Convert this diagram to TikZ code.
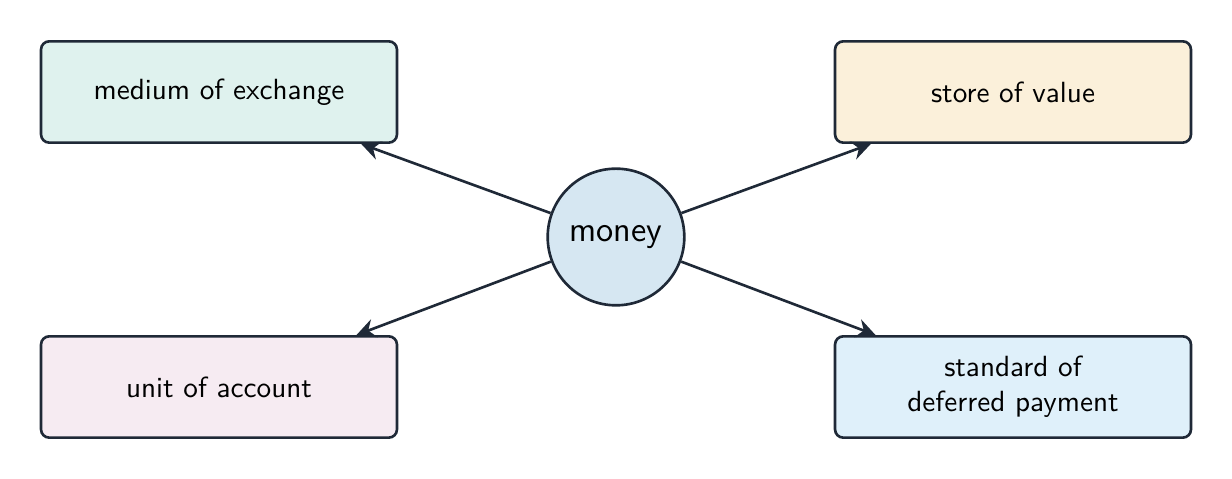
\documentclass[tikz,border=0pt]{standalone}
\usetikzlibrary{arrows.meta}
\definecolor{ink}{HTML}{1F2937}
\definecolor{fteal}{HTML}{DFF2EE}
\definecolor{fcream}{HTML}{FBF0DA}
\definecolor{fpink}{HTML}{F6EBF2}
\definecolor{fblue}{HTML}{DFF0FA}
\definecolor{fcirc}{HTML}{D6E7F2}
\begin{document}
\begin{tikzpicture}[x=0.3425pt,y=-0.3425pt,
  fnbox/.style={draw=ink,line width=0.9pt,rounded corners=2.8pt,minimum width=121.9pt,minimum height=34.7pt,align=center,font=\sffamily,inner sep=2pt},
  hub/.style={draw=ink,line width=0.9pt,circle,fill=fcirc,minimum size=46.8pt,inner sep=0pt,font=\sffamily\large},
  link/.style={draw=ink,line width=0.9pt,-{Stealth[length=6.5pt,width=6.5pt,inset=2.2pt]}}]
\useasboundingbox (0,0) rectangle (1232,479);
\node[hub] (money) at (616,237) {money};
\node[fnbox,fill=fteal] (moe) at (219,92) {medium of exchange};
\node[fnbox,fill=fcream] (sov) at (1013,92) {store of value};
\node[fnbox,fill=fpink] (uoa) at (219,387) {unit of account};
\node[fnbox,fill=fblue] (sdp) at (1013,387) {standard of\\deferred payment};
\draw[link] (money) -- (moe);
\draw[link] (money) -- (sov);
\draw[link] (money) -- (uoa);
\draw[link] (money) -- (sdp);
\end{tikzpicture}
\end{document}
